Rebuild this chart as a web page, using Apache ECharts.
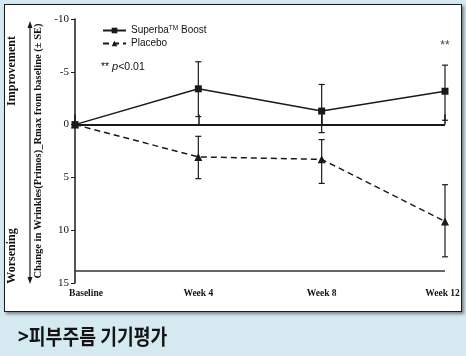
<!DOCTYPE html>
<html>
<head>
<meta charset="utf-8">
<script src="https://cdn.jsdelivr.net/npm/echarts@6/dist/echarts.min.js"></script>
<style>
html,body{margin:0;padding:0;background:#d4e9f0;}
#wrap{position:relative;width:466px;height:356px;background:#d4e9f0;overflow:hidden;}
#panel{position:absolute;left:4px;top:4px;width:456px;height:306px;background:#fff;border:1.5px solid #1c1c1c;box-shadow:2px 2px 3px rgba(0,0,0,0.45);}
#chart{position:absolute;left:0;top:0;width:466px;height:356px;}
</style>
</head>
<body>
<div id="wrap"><div id="panel"></div><div id="chart"></div></div>
<script>
var categories = ['Baseline', 'Week 4', 'Week 8', 'Week 12'];
var superbaValues = [0, -3.39, -1.28, -3.16];
var superbaLow = [null, -5.95, -3.80, -5.63];
var superbaHigh = [null, -0.76, 0.76, -0.41];
var placeboValues = [0, 3.06, 3.29, 9.17];
var placeboLow = [null, 1.11, 1.42, 5.69];
var placeboHigh = [null, 5.12, 5.57, 12.52];
var yTicks = [-10, -5, 0, 5, 10, 15];
var seriesNames = ['Superba™ Boost', 'Placebo'];
var bottomRuleValue = 13.85;
var sigMarkValue = -7.5;

function errData(lo, hi) {
  var out = [];
  for (var i = 0; i < lo.length; i++) {
    if (lo[i] !== null) out.push([i, lo[i], hi[i]]);
  }
  return out;
}
function errRender(params, api) {
  var x = api.value(0);
  var p1 = api.coord([x, api.value(1)]);
  var p2 = api.coord([x, api.value(2)]);
  var w = 3;
  var st = {stroke: '#1a1a1a', lineWidth: 1.2};
  return {type: 'group', children: [
    {type: 'line', shape: {x1: p1[0], y1: p1[1], x2: p2[0], y2: p2[1]}, style: st},
    {type: 'line', shape: {x1: p1[0] - w, y1: p1[1], x2: p1[0] + w, y2: p1[1]}, style: st},
    {type: 'line', shape: {x1: p2[0] - w, y1: p2[1], x2: p2[0] + w, y2: p2[1]}, style: st}
  ]};
}

var serif = '"Liberation Serif", "DejaVu Serif", serif';
var sans = '"Liberation Sans", Arial, sans-serif';

var chart = echarts.init(document.getElementById('chart'), null, {renderer: 'canvas'});
chart.setOption({
  backgroundColor: 'transparent',
  animation: false,
  grid: {left: 75, right: 21, top: 19, bottom: 73, containLabel: false},
  legend: {
    data: seriesNames,
    orient: 'vertical',
    left: 97, top: 20,
    itemWidth: 23, itemHeight: 7, itemGap: 3,
    textStyle: {fontFamily: sans, fontSize: 10, color: '#111',
      rich: {sup: {fontSize: 6.5, verticalAlign: 'top', padding: [0,0,4,0], fontFamily: sans, color:'#111'}}},
    formatter: function (n) {
      return n === seriesNames[0] ? 'Superba{sup|TM} Boost' : n;
    }
  },
  xAxis: {
    type: 'category', data: categories, boundaryGap: false,
    axisLine: {show: false},
    axisTick: {show: true, inside: true, length: 10, alignWithLabel: true, lineStyle: {color: '#1a1a1a', width: 1.5}},
    axisLabel: {margin: 6, fontFamily: serif, fontWeight: 'bold', fontSize: 9.5, color: '#111',
      formatter: function (v, i) {
        if (i === 0) return '{first|' + v + '}';
        if (i === categories.length - 1) return '{last|' + v + '}';
        return v;
      },
      rich: {
        first: {padding: [0, 0, 0, 22], fontFamily: serif, fontWeight: 'bold', fontSize: 9.5, color: '#111'},
        last: {padding: [0, 5, 0, 0], fontFamily: serif, fontWeight: 'bold', fontSize: 9.5, color: '#111'}
      }
    },
    splitLine: {show: false}
  },
  yAxis: {
    type: 'value', inverse: true, min: -10, max: 15, interval: 5,
    name: 'Change in Wrinkles(Primos)_Rmax from baseline (± SE)',
    nameLocation: 'middle', nameGap: 23, nameRotate: 90,
    nameTextStyle: {fontFamily: serif, fontWeight: 'bold', fontSize: 10.5, color: '#111'},
    axisLine: {show: true, lineStyle: {color: '#1a1a1a', width: 1.5}},
    axisTick: {show: true, length: 4, lineStyle: {color: '#1a1a1a'}},
    axisLabel: {margin: 6, fontFamily: serif, fontSize: 11, color: '#111',
      formatter: function (v) { return yTicks.indexOf(v) >= 0 ? String(v) : ''; }},
    splitLine: {show: false}
  },
  graphic: [
    {type: 'text', x: 12, y: 71, rotation: Math.PI / 2,
      style: {text: 'Improvement', font: 'bold 12px ' + serif, fill: '#111', align: 'center', verticalAlign: 'middle'}},
    {type: 'text', x: 12, y: 256, rotation: Math.PI / 2,
      style: {text: 'Worsening', font: 'bold 12px ' + serif, fill: '#111', align: 'center', verticalAlign: 'middle'}},
    {type: 'line', shape: {x1: 30, y1: 26, x2: 30, y2: 279}, style: {stroke: '#1a1a1a', lineWidth: 1.2}},
    {type: 'polygon', shape: {points: [[30, 21], [27.5, 28], [32.5, 28]]}, style: {fill: '#1a1a1a'}},
    {type: 'polygon', shape: {points: [[30, 284], [27.5, 277], [32.5, 277]]}, style: {fill: '#1a1a1a'}},
    {type: 'text', x: 101, y: 67,
      style: {text: '** {i|p}<0.01', font: '10.5px ' + sans, fill: '#111', verticalAlign: 'middle',
        rich: {i: {fontStyle: 'italic', fontSize: 11, fontFamily: sans, fill: '#111'}}}},
    {type: 'text', x: 18, y: 336, scaleX: 0.87,
      style: {text: '>피부주름 기기평가', font: 'bold 21px "Noto Sans CJK KR", sans-serif', fill: '#141414', verticalAlign: 'middle'}}
  ],
  series: [
    {
      name: seriesNames[0], type: 'line', data: superbaValues,
      symbol: 'rect', symbolSize: 7,
      lineStyle: {color: '#1a1a1a', width: 1.5, type: 'solid'},
      itemStyle: {color: '#1a1a1a'},
      z: 5,
      markLine: {
        silent: true, symbol: 'none', label: {show: false},
        lineStyle: {color: '#1a1a1a', width: 2, type: 'solid'},
        data: [{yAxis: 0}]
      },
      markPoint: {
        symbol: 'circle', symbolSize: 1, itemStyle: {color: 'transparent'},
        label: {show: true, formatter: '**', position: 'inside', fontFamily: sans, fontSize: 12, color: '#444'},
        data: [{coord: [3, sigMarkValue]}]
      }
    },
    {
      name: seriesNames[1], type: 'line', data: placeboValues,
      symbol: 'triangle', symbolSize: 8,
      lineStyle: {color: '#1a1a1a', width: 1.5, type: [6, 4]},
      itemStyle: {color: '#1a1a1a'},
      z: 5,
      markLine: {
        silent: true, symbol: 'none', label: {show: false},
        lineStyle: {color: '#333', width: 1.5, type: 'solid'},
        data: [{yAxis: bottomRuleValue}]
      }
    },
    {
      name: 'superbaErr', type: 'custom', renderItem: errRender,
      data: errData(superbaLow, superbaHigh), encode: {x: 0, y: [1, 2]}, z: 4
    },
    {
      name: 'placeboErr', type: 'custom', renderItem: errRender,
      data: errData(placeboLow, placeboHigh), encode: {x: 0, y: [1, 2]}, z: 4
    }
  ]
});
</script>
</body>
</html>
